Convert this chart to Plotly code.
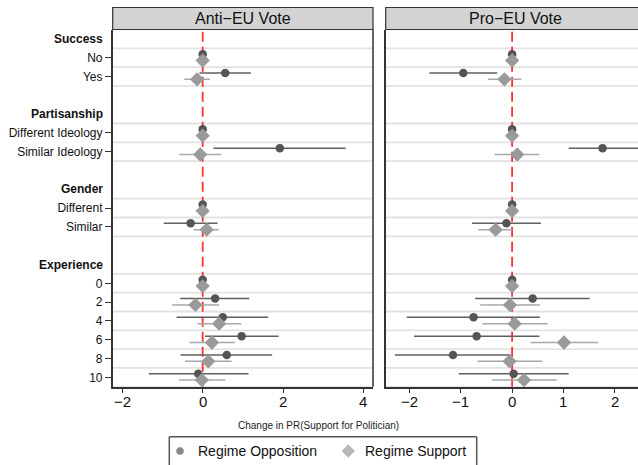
import plotly.graph_objects as go

# ---- data ----
groups = ["Success", "Partisanship", "Gender", "Experience"]
levels = [["No", "Yes"],
          ["Different Ideology", "Similar Ideology"],
          ["Different", "Similar"],
          ["0", "2", "4", "6", "8", "10"]]

panels = ["Anti\u2212EU Vote", "Pro\u2212EU Vote"]
series = ["Regime Opposition", "Regime Support"]

x1_ticks = [-2, 0, 2, 4]
x2_ticks = [-2, -1, 0, 1, 2]

anti_opp_est = [0, 0.56, 0, 1.92, 0, -0.30, 0, 0.31, 0.50, 0.97, 0.60, -0.11]
anti_opp_lo = [0, -0.08, 0, 0.27, 0, -0.97, 0, -0.56, -0.65, 0.06, -0.55, -1.34]
anti_opp_hi = [0, 1.20, 0, 3.56, 0, 0.37, 0, 1.16, 1.63, 1.89, 1.73, 1.14]
anti_sup_est = [0, -0.14, 0, -0.06, 0, 0.10, 0, -0.18, 0.41, 0.23, 0.14, -0.02]
anti_sup_lo = [0, -0.46, 0, -0.58, 0, -0.22, 0, -0.76, -0.13, -0.33, -0.44, -0.59]
anti_sup_hi = [0, 0.18, 0, 0.46, 0, 0.40, 0, 0.41, 0.96, 0.80, 0.72, 0.56]

pro_opp_est = [0, -0.95, 0, 1.76, 0, -0.11, 0, 0.40, -0.75, -0.69, -1.15, 0.03]
pro_opp_lo = [0, -1.61, 0, 1.10, 0, -0.78, 0, -0.72, -2.05, -1.91, -2.28, -1.04]
pro_opp_hi = [0, -0.29, 0, 2.45, 0, 0.56, 0, 1.51, 0.54, 0.53, -0.03, 1.10]
pro_sup_est = [0, -0.15, 0, 0.10, 0, -0.32, 0, -0.04, 0.05, 1.01, -0.05, 0.23]
pro_sup_lo = [0, -0.47, 0, -0.34, 0, -0.66, 0, -0.62, -0.58, 0.36, -0.67, -0.39]
pro_sup_hi = [0, 0.18, 0, 0.53, 0, 0.01, 0, 0.54, 0.69, 1.67, 0.59, 0.87]

x_title = "Change in PR(Support for Politician)"

# ---- layout of rows ----
header_pos = []
level_pos = []
level_lab = []
r = 0
for gi, (g, lv) in enumerate(zip(groups, levels)):
    header_pos.append(r)
    r += 1
    for l in lv:
        level_pos.append(r)
        level_lab.append(l)
        r += 1
    if gi < len(groups) - 1:
        r += 1  # blank row between groups
last_row = r - 1

W, H = 638, 465
FONT = "Liberation Sans, Arial, Helvetica, sans-serif"
px = lambda v: v / W
py = lambda v: 1 - v / H

dom_y = [py(386.7), py(29.5)]
dom_x1 = [px(112.7), px(373.0)]
dom_x2 = [px(385.7), 1.0]

OPP_C = "#555555"
SUP_C = "#9a9a9a"
OFF_OPP = -0.19
OFF_SUP = 0.15

fig = go.Figure()

data = [
    (anti_opp_est, anti_opp_lo, anti_opp_hi, anti_sup_est, anti_sup_lo, anti_sup_hi),
    (pro_opp_est, pro_opp_lo, pro_opp_hi, pro_sup_est, pro_sup_lo, pro_sup_hi),
]

for i, (oe, ol, oh, se, sl, sh) in enumerate(data):
    xa = "x" if i == 0 else "x2"
    ya = "y" if i == 0 else "y2"
    fig.add_trace(go.Scatter(
        x=oe, y=[p + OFF_OPP for p in level_pos], xaxis=xa, yaxis=ya,
        mode="markers", name=series[0], showlegend=False,
        marker=dict(symbol="circle", size=8.5, color=OPP_C),
        error_x=dict(type="data", symmetric=False,
                     array=[h - e for h, e in zip(oh, oe)],
                     arrayminus=[e - l for e, l in zip(oe, ol)],
                     color="#5f5f5f", thickness=1.5, width=0),
    ))
    fig.add_trace(go.Scatter(
        x=se, y=[p + OFF_SUP for p in level_pos], xaxis=xa, yaxis=ya,
        mode="markers", name=series[1], showlegend=False,
        marker=dict(symbol="diamond", size=11, color=SUP_C),
        error_x=dict(type="data", symmetric=False,
                     array=[h - e for h, e in zip(sh, se)],
                     arrayminus=[e - l for e, l in zip(se, sl)],
                     color="#a8a8a8", thickness=1.5, width=0),
    ))

# manual legend (markers on a hidden axis covering the legend box)
leg_y0, leg_y1 = 436.7, 465.0
fig.add_trace(go.Scatter(
    x=[180.0, 348.3], y=[451.0, 451.0], xaxis="x3", yaxis="y3", mode="markers",
    showlegend=False, hoverinfo="skip", cliponaxis=False,
    marker=dict(symbol=["circle", "diamond"], size=[8.5, 11], color=[OPP_C, SUP_C]),
))

shapes = []
grid_lines = sorted(set([p - 0.5 for p in level_pos] + [p + 0.5 for p in level_pos]))
for i in range(2):
    xd = "x domain" if i == 0 else "x2 domain"
    yr = "y" if i == 0 else "y2"
    xr = "x" if i == 0 else "x2"
    for g in grid_lines:
        shapes.append(dict(type="line", xref=xd, yref=yr, x0=0, x1=1, y0=g, y1=g,
                           line=dict(color="#e2e2e2", width=1.8), layer="below"))
    shapes.append(dict(type="line", xref=xr, yref=yr + " domain",
                       x0=0, x1=0, y0=0, y1=1,
                       line=dict(color="#ff3030", width=1.8, dash="10px,5px"), layer="below"))

# left panel right border
shapes.append(dict(type="line", xref="paper", yref="paper", x0=dom_x1[1], x1=dom_x1[1],
                   y0=dom_y[0], y1=dom_y[1], line=dict(color="#333333", width=1.5)))

# header strips
for dx in [dom_x1, dom_x2]:
    shapes.append(dict(type="rect", xref="paper", yref="paper",
                       x0=dx[0], x1=dx[1] if dx[1] < 0.99 else 1.05, y0=py(29.5), y1=py(7.5),
                       fillcolor="#d3d3d3", line=dict(color="#333333", width=1.2), layer="above"))

# legend box (open at the bottom, which runs off the page)
lx0, lx1 = px(169.3), px(476.7)
ly_top = py(leg_y0)
for (a, b, c, d) in [(lx0, lx0, -0.05, ly_top), (lx1, lx1, -0.05, ly_top), (lx0, lx1, ly_top, ly_top)]:
    shapes.append(dict(type="line", xref="paper", yref="paper", x0=a, x1=b, y0=c, y1=d,
                       line=dict(color="#555555", width=1.5), layer="above"))

annotations = []
centers = [(112.7 + 373.0) / 2, (385.7 + 645.7) / 2]
for c, title in zip(centers, panels):
    annotations.append(dict(text=title, xref="paper", yref="paper", x=px(c), y=py(18.5),
                            xanchor="center", yanchor="middle", showarrow=False,
                            font=dict(size=16, color="#111111", family=FONT)))

for g, p in zip(groups, header_pos):
    annotations.append(dict(text="<b>%s</b>" % g, xref="paper", yref="y", x=px(104.5), y=p,
                            xanchor="right", yanchor="middle", showarrow=False,
                            font=dict(size=12, color="#111111", family=FONT)))

# x tick labels placed at the axis tick positions
for xr, ticks in [("x", x1_ticks), ("x2", x2_ticks)]:
    for t in ticks:
        lab = ("\u2212%g" % abs(t)) if t < 0 else ("%g" % t)
        annotations.append(dict(text=lab, xref=xr, yref="paper", x=t, y=py(401.7),
                                xanchor="center", yanchor="middle", showarrow=False,
                                font=dict(size=15, color="#111111", family=FONT)))

annotations.append(dict(text=x_title, xref="paper", yref="paper", x=px(318), y=py(425),
                        xanchor="center", yanchor="middle", showarrow=False,
                        font=dict(size=10, color="#222222", family=FONT)))

for xt, s in zip([195.7, 363.3], series):
    annotations.append(dict(text=s, xref="paper", yref="paper", x=px(xt), y=py(451),
                            xanchor="left", yanchor="middle", showarrow=False,
                            font=dict(size=14, color="#111111", family=FONT)))

axis_common = dict(showgrid=False, zeroline=False, tickwidth=1.2, tickcolor="#333333",
                   linecolor="#333333", linewidth=1.5, showline=True, automargin=False)

fig.update_layout(
    width=W, height=H,
    margin=dict(l=0, r=0, t=0, b=0),
    paper_bgcolor="white", plot_bgcolor="white",
    font=dict(family=FONT, color="#111111"),
    xaxis=dict(domain=dom_x1, range=[-2.24, 4.24], tickvals=x1_ticks, ticks="outside",
               ticklen=5, mirror=False, showticklabels=False, anchor="y", **axis_common),
    yaxis=dict(domain=dom_y, range=[last_row + 0.5, -0.5], tickvals=level_pos,
               ticktext=level_lab, mirror=False, tickfont=dict(size=12), ticks="outside",
               ticklen=6, anchor="x", **axis_common),
    xaxis2=dict(domain=dom_x2, range=[-2.46, 2.45], tickvals=x2_ticks, ticks="outside",
                ticklen=5, mirror=False, showticklabels=False, anchor="y2", **axis_common),
    yaxis2=dict(domain=dom_y, range=[last_row + 0.5, -0.5], tickvals=level_pos,
                showticklabels=False, ticks="", mirror=False, anchor="x2", **axis_common),
    xaxis3=dict(domain=[px(169.3), px(476.7)], range=[169.3, 476.7], visible=False,
                anchor="y3", fixedrange=True),
    yaxis3=dict(domain=[0, py(leg_y0)], range=[leg_y1, leg_y0],
                visible=False, anchor="x3", fixedrange=True),
    shapes=shapes,
    annotations=annotations,
    showlegend=False,
)

fig.write_html(
    "out.html",
    config={"displayModeBar": False},
    post_script="document.body.style.margin='0';document.body.style.overflow='hidden';",
)
